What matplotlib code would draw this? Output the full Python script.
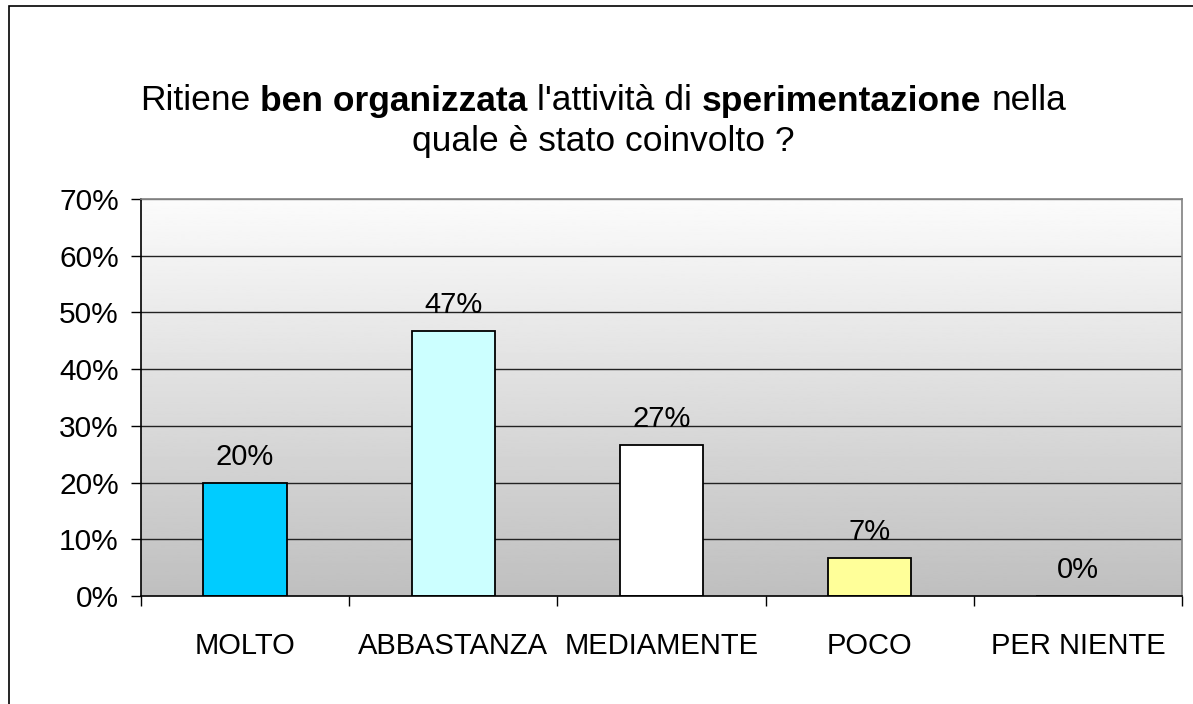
import numpy as np
import matplotlib
matplotlib.use('Agg')
import matplotlib.pyplot as plt
from matplotlib.patches import Rectangle

plt.rcParams['font.family'] = ['Liberation Sans', 'DejaVu Sans']

categories = ['MOLTO', 'ABBASTANZA', 'MEDIAMENTE', 'POCO', 'PER NIENTE']
values = [20.0, 46.7, 26.7, 6.7, 0.0]
labels = ['20%', '47%', '27%', '7%', '0%']
colors = ['#00CCFF', '#CCFFFF', '#FFFFFF', '#FFFF99', '#FFFFFF']
yticks = [0, 10, 20, 30, 40, 50, 60, 70]

W, H = 1193, 704
fig = plt.figure(figsize=(W / 100, H / 100), dpi=100)

# outer chart border (only left/top visible in the picture)
fig.patches.append(Rectangle((9 / W, -0.1), 1.2, 1.1 - 6 / H, transform=fig.transFigure,
                             fill=False, edgecolor='black', linewidth=1.2))

ax = fig.add_axes([141 / W, 1 - 596 / H, (1182 - 141) / W, (596 - 199) / H])

x = np.arange(len(categories))
ax.set_xlim(-0.5, len(categories) - 0.5)

# grey gradient background of the plot area, light at top, darker at bottom
grad = np.linspace(0.75, 0.985, 256).reshape(-1, 1)
ax.imshow(grad, cmap='gray', vmin=0, vmax=1, aspect='auto',
          extent=(-0.5, len(categories) - 0.5, 0, 70), origin='lower', zorder=0)
ax.set_ylim(0, 70)

for yv in yticks[1:]:
    ax.axhline(yv, color='#222222' if yv < 70 else '#808080', linewidth=1.0, zorder=1)

bars = ax.bar(x, values, width=0.4, color=colors, edgecolor='black', linewidth=1.3, zorder=2)
for xi, v, lab in zip(x, values, labels):
    ax.text(xi, v + 2.1, lab, ha='center', va='bottom', fontsize=21, color='black', zorder=3)

ax.set_yticks(yticks)
ax.set_yticklabels([f'{v}%' for v in yticks], fontsize=21.5)
ax.tick_params(axis='y', length=7, width=1, pad=9, color='black')

ax.set_xticks(x)
ax.set_xticklabels(categories, fontsize=21)
ax.set_xticks(np.arange(-0.5, len(categories) + 0.5, 1), minor=True)
ax.tick_params(axis='x', which='major', length=0, pad=26)
ax.tick_params(axis='x', which='minor', length=7, width=1, color='black')

for side in ['left', 'bottom']:
    ax.spines[side].set_color('black')
    ax.spines[side].set_linewidth(1.2)
for side in ['top', 'right']:
    ax.spines[side].set_color('#808080')
    ax.spines[side].set_linewidth(1.2)

# title with mixed bold / regular words
line1 = [("Ritiene", 'normal'), ("ben organizzata", 'bold'), ("l'attività di", 'normal'),
         ("sperimentazione", 'bold'), ("nella", 'normal')]
line2 = "quale è stato coinvolto ?"
title_size = 25.5
center_x = 603 / W

renderer = fig.canvas.get_renderer()
def width_px(s, weight):
    t = fig.text(0, 0, s, fontsize=title_size, fontweight=weight)
    w = t.get_window_extent(renderer).width
    t.remove()
    return w

space = width_px('x x', 'normal') - width_px('xx', 'normal')
widths = [width_px(s, wt) for s, wt in line1]
total = sum(widths) + space * (len(line1) - 1)
xpos = center_x * W - total / 2
y1 = 1 - 101 / H
for (s, wt), w in zip(line1, widths):
    fig.text(xpos / W, y1, s, fontsize=title_size, fontweight=wt, ha='left', va='center')
    xpos += w + space
fig.text(center_x, 1 - 142 / H, line2, fontsize=title_size, ha='center', va='center')

fig.savefig('out.png', dpi=100)
